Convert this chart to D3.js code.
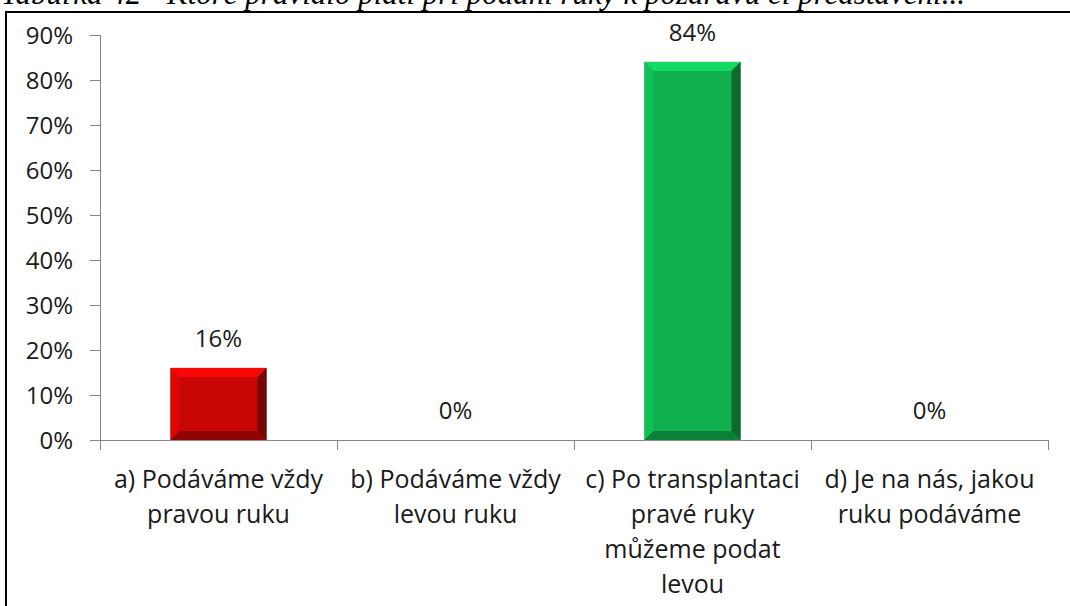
<!DOCTYPE html>
<meta charset="utf-8">
<style>
body { margin: 0; background: #fff; }
svg text { font-family: "Open Sans", "Noto Sans", sans-serif; fill: #1a1a1a; }
.caption { font-family: "Liberation Serif", serif; font-style: italic; fill: #000; }
.axis path, .axis line { stroke: #868686; }
</style>
<body>
<svg id="chart" width="1070" height="606"></svg>
<script src="https://d3js.org/d3.v7.min.js"></script>
<script>
// data
var categories = [
  ["a) Podáváme vždy", "pravou ruku"],
  ["b) Podáváme vždy", "levou ruku"],
  ["c) Po transplantaci", "pravé ruky", "můžeme podat", "levou"],
  ["d) Je na nás, jakou", "ruku podáváme"]
];
var values = [16, 0, 84, 0];
var yTicks = [0, 10, 20, 30, 40, 50, 60, 70, 80, 90];
var barColors = ["#c80606", "", "#10b04e", ""];

var svg = d3.select('#chart');
var W = 1070, H = 606;
var margin = {top: 35, right: 22, bottom: 166, left: 100};

// caption partly cut off at the top, plus the frame
svg.append('text').attr('class', 'caption')
  .attr('x', 1).attr('y', 4).attr('font-size', 31)
  .text('Tabuľka 42 - Ktoré pravidlo platí pri podaní ruky k pozdravu či predstavení...');
svg.append('line').attr('x1', 5).attr('x2', W).attr('y1', 12).attr('y2', 12)
  .attr('stroke', '#000').attr('stroke-width', 2);
svg.append('line').attr('x1', 6).attr('x2', 6).attr('y1', 12).attr('y2', H)
  .attr('stroke', '#000').attr('stroke-width', 2);

var x = d3.scaleBand()
  .domain(d3.range(categories.length))
  .range([margin.left, W - margin.right]);
var y = d3.scaleLinear().domain([0, 90]).range([H - margin.bottom, margin.top]);

// y axis
var yAxis = svg.append('g').attr('class', 'axis')
  .attr('transform', 'translate(' + margin.left + ',0)')
  .call(d3.axisLeft(y).tickValues(yTicks).tickFormat(function(d){ return d + '%'; }).tickSize(10).tickSizeOuter(0));
yAxis.selectAll('text').attr('font-size', 24).attr('x', -27).attr('dy', '0.36em').style('fill', '#1a1a1a');
yAxis.select('.domain').attr('d', 'M0.5,' + y(90) + 'V' + y(0));

// x axis with ticks on category boundaries
var xg = svg.append('g').attr('class', 'axis');
xg.append('line').attr('x1', margin.left).attr('x2', W - margin.right)
  .attr('y1', y(0) + 0.5).attr('y2', y(0) + 0.5);
var bounds = d3.range(categories.length + 1).map(function(i){
  return i < categories.length ? x(i) : x(i - 1) + x.bandwidth();
});
xg.selectAll('.tk').data(bounds).enter().append('line')
  .attr('x1', function(d){ return Math.round(d) + 0.5; })
  .attr('x2', function(d){ return Math.round(d) + 0.5; })
  .attr('y1', y(0)).attr('y2', y(0) + 10);

// category labels
categories.forEach(function(lines, i){
  var t = svg.append('text').attr('text-anchor', 'middle').attr('font-size', 25)
    .attr('x', x(i) + x.bandwidth() / 2).attr('y', y(0) + 48);
  lines.forEach(function(s, j){
    t.append('tspan').attr('x', x(i) + x.bandwidth() / 2).attr('dy', j ? 35 : 0).text(s);
  });
});

// bevelled bars
var bw = 96, bev = 9;
values.forEach(function(v, i){
  if (!v) return;
  var c = d3.color(barColors[i]);
  var x0 = x(i) + x.bandwidth() / 2 - bw / 2, x1 = x0 + bw;
  var y0 = y(v), y1 = y(0);
  var g = svg.append('g');
  g.append('rect').attr('x', x0).attr('y', y0).attr('width', bw).attr('height', y1 - y0)
    .attr('fill', c.formatHex()).attr('stroke', '#9a9a9a').attr('stroke-width', 0.6);
  function poly(pts, fill){ g.append('polygon').attr('points', pts.map(function(p){ return p.join(','); }).join(' ')).attr('fill', fill); }
  poly([[x0, y0], [x1, y0], [x1 - bev, y0 + bev], [x0 + bev, y0 + bev]], c.brighter(0.6).formatHex());
  poly([[x0, y0], [x0 + bev, y0 + bev], [x0 + bev, y1 - bev], [x0, y1]], c.brighter(0.25).formatHex());
  poly([[x1, y0], [x1, y1], [x1 - bev, y1 - bev], [x1 - bev, y0 + bev]], c.darker(1.4).formatHex());
  poly([[x0, y1], [x0 + bev, y1 - bev], [x1 - bev, y1 - bev], [x1, y1]], c.darker(0.9).formatHex());
});

// value labels
svg.selectAll('.val').data(values).enter().append('text')
  .attr('text-anchor', 'middle').attr('font-size', 24)
  .attr('x', function(d, i){ return x(i) + x.bandwidth() / 2; })
  .attr('y', function(d){ return y(d) - 21; })
  .text(function(d){ return d + '%'; });
</script>
</body>
